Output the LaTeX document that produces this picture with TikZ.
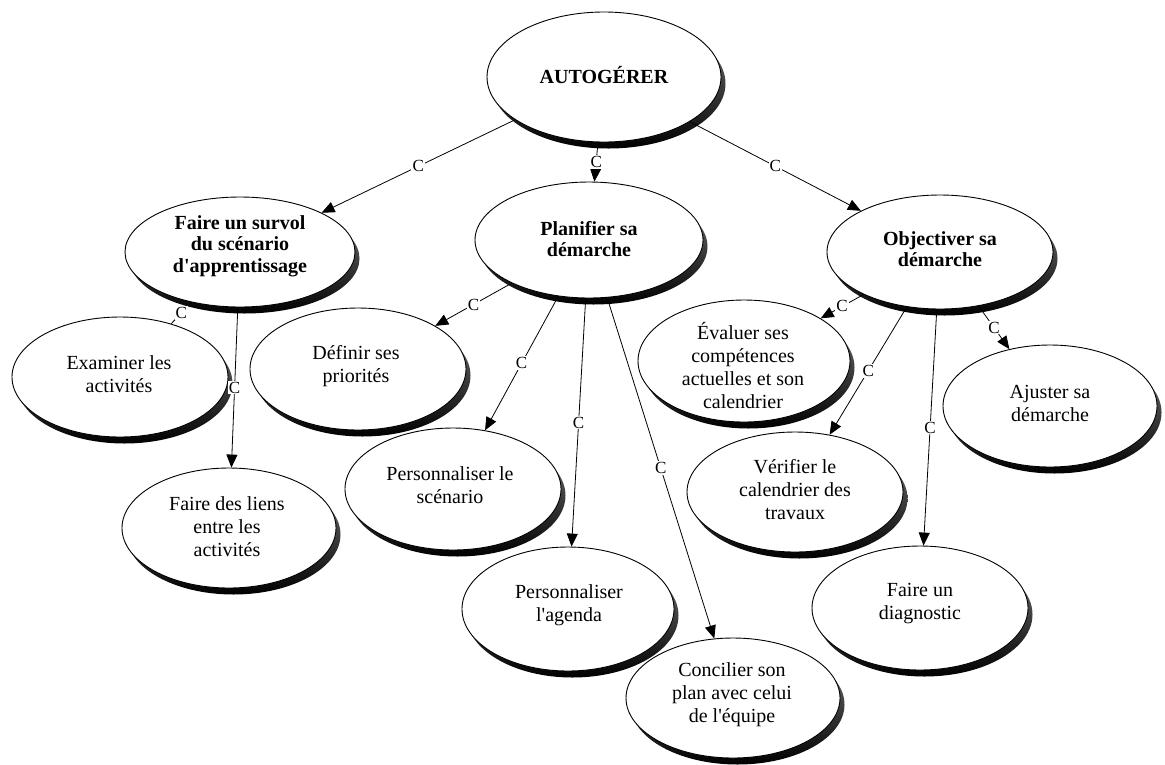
\documentclass[tikz,border=0pt]{standalone}
\usepackage{fontspec}
\setmainfont{Liberation Serif}[Ligatures=TeXOff]
\usetikzlibrary{shapes.geometric, arrows.meta, shadows}

\tikzset{
  concept/.style={ellipse, draw=black, line width=0.9pt, fill=white, inner sep=0pt,
    general shadow={shadow xshift=4.5pt, shadow yshift=-6.5pt, top color=black!50, bottom color=black}},
  ctext/.style={align=center, font=\fontsize{20}{23}\selectfont, inner sep=0pt},
  ctitle/.style={align=center, font=\fontsize{20}{21.5}\selectfont\bfseries, inner sep=0pt},
  link/.style={line width=0.8pt, -{Triangle[length=13pt,width=11pt]}},
  bare link/.style={line width=0.8pt},
  clab/.style={midway, fill=white, inner sep=1.2pt, font=\fontsize{17}{17}\selectfont},
}

\begin{document}
\begin{tikzpicture}[x=1pt, y=-1pt]
\useasboundingbox (0,0) rectangle (1165,764);

% root and first level
\node[concept, minimum width=234pt, minimum height=130pt] (auto) at (604,77) {};
\node[ctitle] (auto-t) at (604,75) {AUTOGÉRER};

\node[concept, minimum width=230pt, minimum height=110pt] (survol) at (240,252) {};
\node[ctitle] (survol-t) at (240,246) {Faire un survol\\du scénario\\d'apprentissage};

\node[concept, minimum width=228pt, minimum height=116pt] (planif) at (589,240) {};
\node[ctitle] (planif-t) at (589,239) {Planifier sa\\démarche};

\node[concept, minimum width=226pt, minimum height=114pt] (objectiver) at (940,252) {};
\node[ctitle] (objectiver-t) at (940,249) {Objectiver sa\\démarche};

% second level, left branch
\node[concept, minimum width=216pt, minimum height=120pt] (examiner) at (120,377) {};
\node[ctext] (examiner-t) at (119,374) {Examiner les\\activités};

\node[concept, minimum width=214pt, minimum height=120pt] (liens) at (229,528) {};
\node[ctext] (liens-t) at (227,527) {Faire des liens\\entre les\\activités};

% second level, middle branch
\node[concept, minimum width=216pt, minimum height=122pt] (definir) at (358,369) {};
\node[ctext] (definir-t) at (356,366) {Définir ses\\priorités};

\node[concept, minimum width=216pt, minimum height=122pt] (scenario) at (453,489) {};
\node[ctext] (scenario-t) at (450,485) {Personnaliser le\\scénario};

\node[concept, minimum width=212pt, minimum height=124pt] (agenda) at (568,609) {};
\node[ctext] (agenda-t) at (569,605) {Personnaliser\\l'agenda};

\node[concept, minimum width=214pt, minimum height=120pt] (concilier) at (733,698) {};
\node[ctext] (concilier-t) at (732,695) {Concilier son\\plan avec celui\\de l'équipe};

% second level, right branch
\node[concept, minimum width=212pt, minimum height=122pt] (evaluer) at (744,361) {};
\node[ctext] (evaluer-t) at (743,366) {Évaluer ses\\compétences\\actuelles et son\\calendrier};

\node[concept, minimum width=216pt, minimum height=120pt] (verifier) at (795,492) {};
\node[ctext] (verifier-t) at (795,490) {Vérifier le\\calendrier des\\travaux};

\node[concept, minimum width=214pt, minimum height=122pt] (ajuster) at (1050,406) {};
\node[ctext] (ajuster-t) at (1050,403) {Ajuster sa\\démarche};

\node[concept, minimum width=216pt, minimum height=124pt] (diagnostic) at (920,608) {};
\node[ctext] (diagnostic-t) at (920,604) {Faire un\\diagnostic};

% connectors
\draw[link] (auto) -- (survol) node[clab] {C};
\draw[link] (auto) -- (planif) node[clab] {C};
\draw[link] (auto) -- (objectiver) node[clab] {C};

\draw[bare link] (survol) -- (examiner) node[clab] {C};
\draw[link] (survol) -- (liens) node[clab] {C};

\draw[link] (planif) -- (definir) node[clab] {C};
\draw[link] (planif) -- (scenario) node[clab] {C};
\draw[link] (planif) -- (agenda) node[clab] {C};
\draw[link] (planif) -- (concilier) node[clab] {C};

\draw[link] (objectiver) -- (evaluer) node[clab] {C};
\draw[link] (objectiver) -- (verifier) node[clab] {C};
\draw[link] (objectiver) -- (diagnostic) node[clab] {C};
\draw[link] (objectiver) -- (ajuster) node[clab] {C};
\end{tikzpicture}
\end{document}
